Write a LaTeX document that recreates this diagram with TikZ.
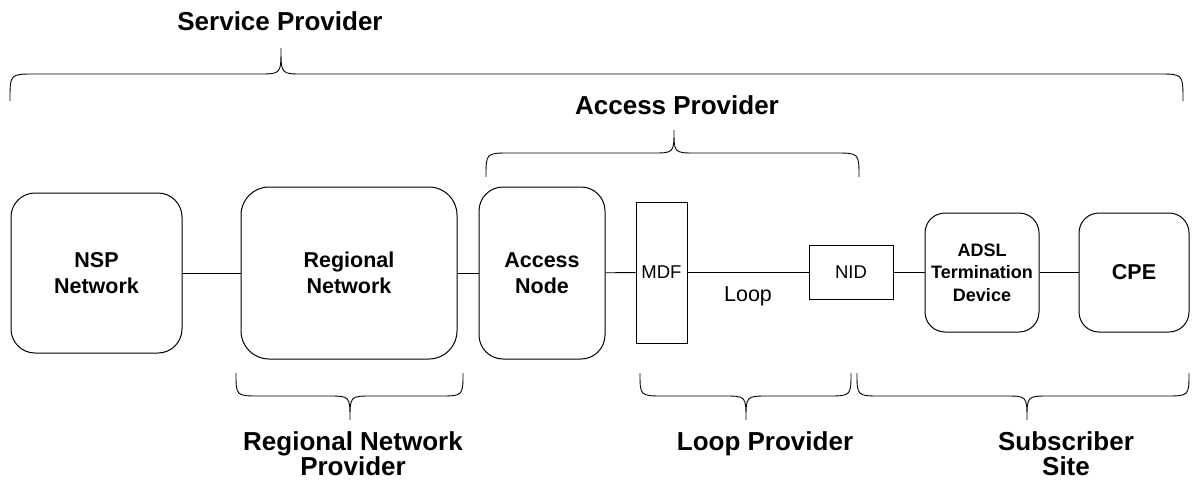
\documentclass[tikz,border=0pt]{standalone}
\usepackage{fontspec}
\setmainfont{Liberation Sans}

% brace: left x, tip x, right x, end y, flat y, tip y
\newcommand{\provbrace}[6]{%
  \draw[bracket] (#1,#4) .. controls (#1,#5) .. (#1+24,#5) -- (#2-22,#5)
    .. controls (#2,#5) .. (#2,#6) .. controls (#2,#5) .. (#2+22,#5)
    -- (#3-24,#5) .. controls (#3,#5) .. (#3,#4);}

\begin{document}
\begin{tikzpicture}[
    x=1pt, y=-1pt,
    netbox/.style={rectangle, draw, line width=1pt, rounded corners=24pt, inner sep=0pt, align=center, font=\fontsize{21.5}{26}\selectfont\bfseries},
    smallbox/.style={netbox, rounded corners=20pt, font=\fontsize{18}{22.5}\selectfont\bfseries},
    patch/.style={rectangle, draw, line width=1pt, inner sep=0pt, font=\fontsize{18.5}{22}\selectfont},
    link/.style={line width=0.9pt},
    bracket/.style={line width=0.9pt},
    role/.style={align=center, inner sep=0pt, font=\fontsize{26}{25}\selectfont\bfseries}
]
\useasboundingbox (0,0) rectangle (1192,480);

% Network elements
\node[netbox, minimum width=171pt, minimum height=160pt] (nsp) at (96.5,273) {NSP\\Network};
\node[netbox, minimum width=216pt, minimum height=172pt, rounded corners=28pt] (regional) at (349,273) {Regional\\Network};
\node[netbox, minimum width=126pt, minimum height=172pt] (access) at (542,273) {Access\\Node};
\node[patch, minimum width=51pt, minimum height=141pt] (mdf) at (661.5,272.5) {MDF};
\node[patch, minimum width=84pt, minimum height=54pt] (nid) at (851,272.5) {NID};
\node[smallbox, minimum width=114pt, minimum height=119pt] (adsl) at (982,272.5) {ADSL\\Termination\\Device};
\node[netbox, rounded corners=20pt, minimum width=110pt, minimum height=119pt] (cpe) at (1134,272.5) {CPE};

% Links
\foreach \a/\b in {nsp/regional, regional/access, access/mdf, nid/adsl, adsl/cpe}
    \draw[link] (\a) -- (\b);
\draw[link] (mdf) -- node[below=12pt, inner sep=2pt, font=\fontsize{21.5}{26}\selectfont] (loop) {Loop} (nid);

% Braces
\provbrace{10}{281}{1183}{101}{74}{48}
\provbrace{486}{674}{859}{177}{153}{130}
\provbrace{236}{350}{463}{373}{396}{420}
\provbrace{640}{746}{851}{373}{396}{420}
\provbrace{857}{1027}{1189}{373}{396}{420}

% Roles
\node[role] (service) at (280,21) {Service Provider};
\node[role] (accessprov) at (677,105) {Access Provider};
\node[role, anchor=north] (regprov) at (353,431) {Regional Network\\Provider};
\node[role, anchor=north] (loopprov) at (765,431) {Loop Provider};
\node[role, anchor=north] (subsite) at (1066,431) {Subscriber\\Site};

\end{tikzpicture}
\end{document}
